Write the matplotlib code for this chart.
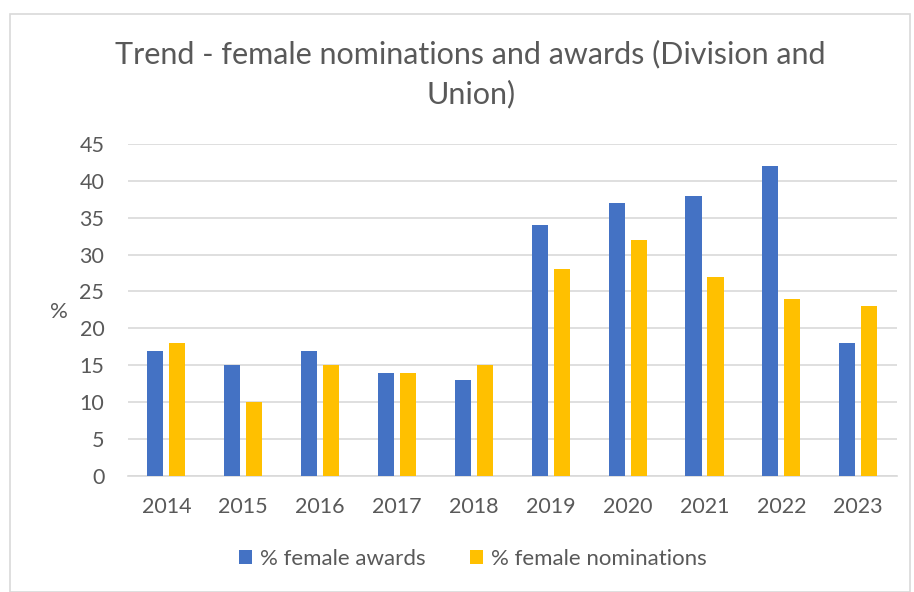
import matplotlib
matplotlib.use("Agg")
import matplotlib.pyplot as plt
from matplotlib.patches import Rectangle
import numpy as np

years = ["2014", "2015", "2016", "2017", "2018", "2019", "2020", "2021", "2022", "2023"]
awards = [17, 15, 17, 14, 13, 34, 37, 38, 42, 18]
nominations = [18, 10, 15, 14, 15, 28, 32, 27, 24, 23]

BLUE = "#4472C4"
GOLD = "#FFC000"
TEXT = "#595959"
GRID = "#D9D9D9"

plt.rcParams["font.family"] = ["Lato", "DejaVu Sans"]

fig = plt.figure(figsize=(9.14, 5.92), dpi=100)
ax = fig.add_axes([0.140, 0.196, 0.841, 0.561])

# chart border like the office export
fig.patches.append(Rectangle((10 / 914, 0), 900 / 914, 1 - 14 / 592,
                             transform=fig.transFigure, fill=False,
                             edgecolor=GRID, linewidth=1.2))

x = np.arange(len(years))
w = 0.21
off = 0.143
ax.bar(x - off, awards, w, color=BLUE, label="% female awards", zorder=3)
ax.bar(x + off, nominations, w, color=GOLD, label="% female nominations", zorder=3)

ax.set_xlim(-0.5, len(years) - 0.5)
ax.set_ylim(0, 45)
ax.set_yticks(range(0, 46, 5))
ax.set_xticks(x)
ax.set_xticklabels(years)
ax.yaxis.grid(True, color=GRID, linewidth=1.2, zorder=0)
ax.set_axisbelow(True)
for s in ["top", "right", "left"]:
    ax.spines[s].set_visible(False)
ax.spines["bottom"].set_color(GRID)
ax.spines["bottom"].set_linewidth(1.2)
ax.tick_params(axis="both", length=0, colors=TEXT, labelsize=15.5)
ax.tick_params(axis="y", pad=17)
ax.tick_params(axis="x", pad=15)

ax.set_ylabel("%", rotation=0, color=TEXT, fontsize=16, va="center")
ax.yaxis.set_label_coords(-0.09, 0.494)

fig.text(0.515, 0.908, "Trend - female nominations and awards (Division and",
         ha="center", va="center", fontsize=22, color=TEXT)
fig.text(0.515, 0.841, "Union)", ha="center", va="center", fontsize=22, color=TEXT)

fig.legend(loc="center", bbox_to_anchor=(0.517, 0.056), ncol=2, frameon=False,
           fontsize=16, labelcolor=TEXT, handlelength=0.6, handleheight=0.6,
           handletextpad=0.35, columnspacing=2.0)

fig.savefig("out.png", dpi=100)
